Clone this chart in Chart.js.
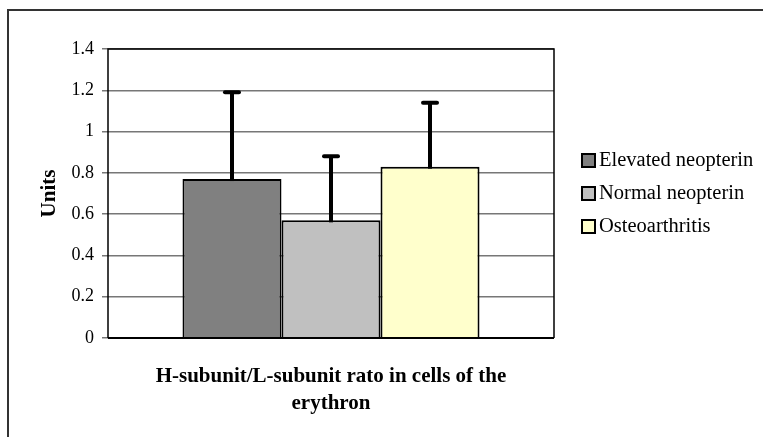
<!DOCTYPE html>
<html>
<head>
<meta charset="utf-8">
<script src="https://cdn.jsdelivr.net/npm/chart.js@4"></script>
<style>
  html, body { margin: 0; padding: 0; background: #fff; }
  #wrap { width: 763px; height: 437px; }
</style>
</head>
<body>
<div id="wrap"><canvas id="chart" width="763" height="437"></canvas></div>
<script>
const groups = ["Elevated neopterin", "Normal neopterin", "Osteoarthritis"];
const means = [0.77, 0.57, 0.83];
const errUp = [0.42, 0.31, 0.31];
const colors = ["#808080", "#c0c0c0", "#ffffcc"];
const yTicks = [0, 0.2, 0.4, 0.6, 0.8, 1, 1.2, 1.4];
const xTitle = ["H-subunit/L-subunit rato in cells of the", "erythron"];
const yTitle = "Units";

const SERIF = "'Liberation Serif', 'Times New Roman', serif";

// outer frame, plot border, error bars and the legend
const extras = {
  id: "extras",
  beforeDraw(chart) {
    const { ctx, width, height } = chart;
    ctx.save();
    ctx.fillStyle = "#fff";
    ctx.fillRect(0, 0, width, height);
    ctx.strokeStyle = "#333";
    ctx.lineWidth = 2;
    ctx.beginPath();
    ctx.moveTo(8, height);
    ctx.lineTo(8, 10);
    ctx.lineTo(width, 10);
    ctx.stroke();
    ctx.restore();
  },
  afterDatasetsDraw(chart) {
    const { ctx, chartArea: a } = chart;
    const y = chart.scales.y;
    ctx.save();
    ctx.strokeStyle = "#000";
    ctx.lineWidth = 1.5;
    ctx.beginPath();
    ctx.moveTo(a.left, a.bottom);
    ctx.lineTo(a.left, a.top);
    ctx.lineTo(a.right, a.top);
    ctx.lineTo(a.right, a.bottom);
    ctx.stroke();
    ctx.lineWidth = 2;
    ctx.beginPath();
    ctx.moveTo(a.left, a.bottom);
    ctx.lineTo(a.right, a.bottom);
    ctx.stroke();

    chart.data.datasets.forEach((ds, i) => {
      const bar = chart.getDatasetMeta(i).data[0];
      const top = y.getPixelForValue(means[i] + errUp[i]);
      ctx.lineWidth = 4;
      ctx.lineCap = "butt";
      ctx.beginPath();
      ctx.moveTo(bar.x, bar.y + 2);
      ctx.lineTo(bar.x, top);
      ctx.stroke();
      ctx.lineCap = "round";
      ctx.beginPath();
      ctx.moveTo(bar.x - 7, top);
      ctx.lineTo(bar.x + 7, top);
      ctx.stroke();
    });

    ctx.font = "20.5px " + SERIF;
    ctx.textBaseline = "middle";
    ctx.textAlign = "left";
    groups.forEach((name, i) => {
      const cy = 161 + i * 33;
      ctx.fillStyle = colors[i];
      ctx.fillRect(582, cy - 7, 13, 13);
      ctx.lineWidth = 2;
      ctx.strokeStyle = "#000";
      ctx.strokeRect(582, cy - 7, 13, 13);
      ctx.fillStyle = "#000";
      ctx.fillText(name, 599, cy);
    });
    ctx.restore();
  },
};

new Chart(document.getElementById("chart"), {
  type: "bar",
  data: {
    labels: [""],
    datasets: groups.map((name, i) => ({
      label: name,
      data: [means[i]],
      backgroundColor: colors[i],
      borderColor: "#000",
      borderWidth: 2,
      barPercentage: 1,
      categoryPercentage: 0.666,
    })),
  },
  options: {
    responsive: false,
    animation: false,
    layout: { padding: { left: 8, right: 209, top: 49, bottom: 19.5 } },
    plugins: { legend: { display: false }, tooltip: { enabled: false } },
    scales: {
      x: {
        grid: { display: false, drawTicks: false },
        border: { display: false },
        ticks: { display: false },
        title: {
          display: true,
          text: xTitle,
          color: "#000",
          font: { family: SERIF, size: 21, weight: "bold", lineHeight: "27px" },
          padding: { top: 25.5, bottom: 0 },
        },
      },
      y: {
        min: 0,
        max: 1.4,
        afterBuildTicks: (scale) => {
          scale.ticks = yTicks.map((v) => ({ value: v }));
        },
        afterFit: (scale) => {
          scale.width = 100;
        },
        grid: { color: "#777", lineWidth: 1.5, tickLength: 6 },
        border: { display: false },
        ticks: {
          color: "#000",
          padding: 8,
          font: { family: SERIF, size: 18 },
          callback: (v) => String(v),
        },
        title: {
          display: true,
          text: yTitle,
          color: "#000",
          font: { family: SERIF, size: 21, weight: "bold", lineHeight: 1.2 },
          padding: { top: 29, bottom: 0 },
        },
      },
    },
  },
  plugins: [extras],
});
</script>
</body>
</html>
